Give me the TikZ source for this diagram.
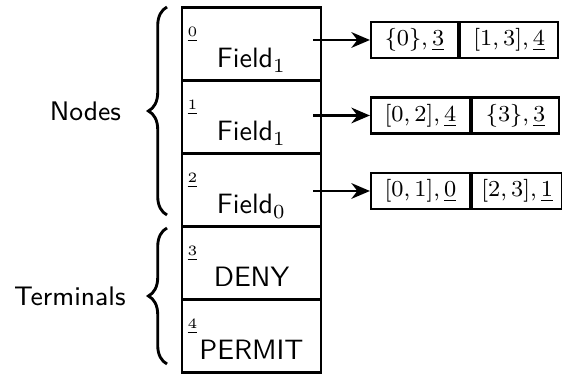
\documentclass[tikz,border=0pt]{standalone}
\usetikzlibrary{arrows.meta,decorations.pathreplacing,positioning}

\tikzset{
  cell/.style={draw, line width=0.8pt, minimum width=48.6pt, minimum height=25.5pt, inner sep=0pt},
  idx/.style={anchor=north west, inner sep=0pt, font=\fontsize{4.6}{5}\selectfont},
  kind/.style={anchor=base, inner sep=0pt, font=\sffamily\fontsize{9.8}{11}\selectfont},
  part/.style={draw, line width=0.8pt, minimum height=12.6pt, inner sep=0pt, font=\fontsize{8.2}{9}\selectfont},
  ptr/.style={-{Stealth[length=6.5pt,width=5.5pt]}, line width=0.8pt},
  bracket/.style={decorate, decoration={brace, amplitude=6.5pt}, line width=1pt},
  side/.style={inner sep=0pt, font=\sffamily\fontsize{9.4}{11}\selectfont},
}

\begin{document}
\begin{tikzpicture}[x=0.35pt, y=-0.35pt]
    \useasboundingbox (0,0) rectangle (562,374);

    % the table of rows, index on top left, kind below
    \foreach \i/\txt in {0/Field$_1$, 1/Field$_1$, 2/Field$_0$, 3/DENY, 4/PERMIT} {
        \node[cell] (c\i) at (251.5, 44+73*\i) {};
        \node[idx] (i\i) at (187, 27+73*\i) {$\underline{\i}$};
        \node[kind] (k\i) at (251.5, 68+73*\i) {\txt};
    }

    % edge lists of the inner rows
    \node[part, minimum width=30.4pt] (l0) at (414.5,40) {$\{0\},\underline{3}$};
    \node[part, minimum width=34.3pt, right=0pt of l0] (r0) {$[1,3],\underline{4}$};
    \node[part, minimum width=34.6pt] (l1) at (420.5,115.5) {$[0,2],\underline{4}$};
    \node[part, minimum width=30.4pt, right=0pt of l1] (r1) {$\{3\},\underline{3}$};
    \node[part, minimum width=34.6pt] (l2) at (420.5,191) {$[0,1],\underline{0}$};
    \node[part, minimum width=31.5pt, right=0pt of l2] (r2) {$[2,3],\underline{1}$};

    \coordinate (s0) at (313,40);
    \coordinate (s1) at (313,115.5);
    \coordinate (s2) at (313,191);
    \draw[ptr] (s0) -- (l0.west);
    \draw[ptr] (s1) -- (l1.west);
    \draw[ptr] (s2) -- (l2.west);

    % groups on the left
    \draw[bracket] (167,215) -- (167,7) node[midway, left=15.6pt, side] (nodes) {Nodes};
    \draw[bracket] (167,364) -- (167,228) node[midway, left=14pt, side] (terms) {Terminals};
\end{tikzpicture}
\end{document}
